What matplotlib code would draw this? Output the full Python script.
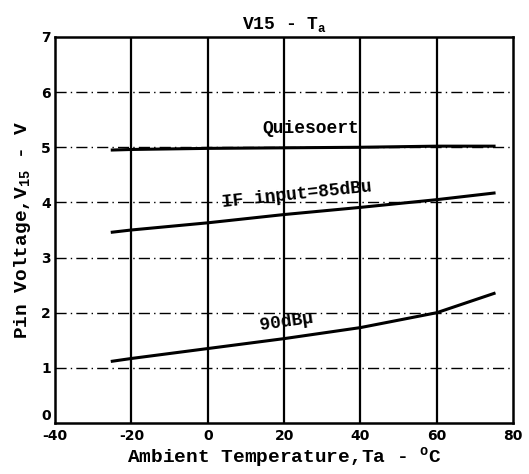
import matplotlib
matplotlib.use("Agg")
import matplotlib.pyplot as plt

temps = [-25, -20, 0, 20, 40, 60, 75]
quiescent = [4.95, 4.96, 4.98, 4.99, 5.00, 5.02, 5.02]
if85 = [3.46, 3.50, 3.63, 3.78, 3.91, 4.05, 4.17]
db90 = [1.12, 1.17, 1.35, 1.53, 1.73, 2.00, 2.35]

x_ticks = [-40, -20, 0, 20, 40, 60, 80]
y_ticks = [0, 1, 2, 3, 4, 5, 6, 7]

mono = ["Liberation Mono", "DejaVu Sans Mono"]

fig = plt.figure(figsize=(5.29, 4.74), dpi=100)
ax = fig.add_axes([0.104, 0.1076, 0.866, 0.8144])

ax.set_xlim(-40, 80)
ax.set_ylim(0, 7)
ax.set_xticks(x_ticks)
ax.set_yticks(y_ticks)
ax.set_xticklabels([str(v) for v in x_ticks], fontsize=10, fontweight="bold")
ylabels = ax.set_yticklabels([str(v) for v in y_ticks], fontsize=10, fontweight="bold")
ylabels[0].set_va("bottom")
ax.tick_params(axis="x", length=0, pad=4)
ax.tick_params(axis="y", length=0, pad=3)

for xv in x_ticks[1:-1]:
    ax.axvline(xv, color="black", lw=1.6, zorder=1)
for yv in y_ticks[1:-1]:
    ax.axhline(yv, color="black", lw=1.0, ls=(0, (8, 3, 1, 3)), zorder=1)

for s in ax.spines.values():
    s.set_linewidth(1.8)

ax.plot(temps, quiescent, color="black", lw=2.2, zorder=3)
ax.plot(temps, if85, color="black", lw=2.2, zorder=3)
ax.plot(temps, db90, color="black", lw=2.2, zorder=3)

ax.text(27, 5.34, "Quiesoert", fontsize=13, fontweight="bold", family=mono,
        ha="center", va="center")
ax.text(23.5, 4.14, "IF input=85dBu", fontsize=13, fontweight="bold", family=mono,
        ha="center", va="center", rotation=6)
ax.text(20.5, 1.83, "90dB\u03bc", fontsize=13, fontweight="bold", family=mono,
        ha="center", va="center", rotation=8)

ax.set_title("V15 - T$_{\\mathregular{a}}$", fontsize=13, fontweight="bold", family=mono, pad=6)
ax.set_xlabel("Ambient Temperature,Ta - $^{\\mathregular{o}}$C", fontsize=14,
              fontweight="bold", family=mono, labelpad=2)
ax.set_ylabel("Pin Voltage,V$_{\\mathregular{15}}$ - V", fontsize=14,
              fontweight="bold", family=mono, labelpad=6)

fig.savefig("out.png", dpi=100)
